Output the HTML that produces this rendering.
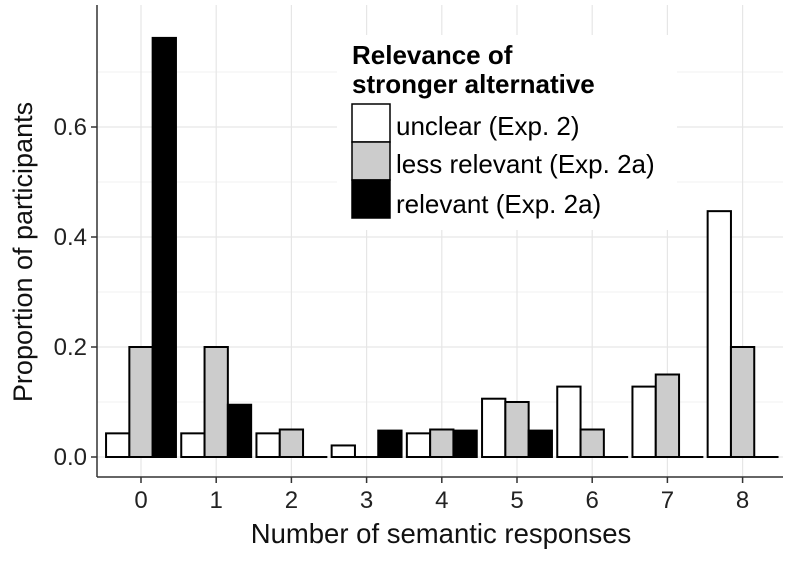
<!DOCTYPE html>
<html><head><meta charset="utf-8"><style>
body{margin:0;background:#fff;}
svg text{font-family:"Liberation Sans",sans-serif;}
</style></head><body>
<svg id="chart" width="800" height="556" xmlns="http://www.w3.org/2000/svg">
<g id="grid"></g>
<g id="bars"></g>
<g id="axes"></g>
<text x="441" y="543" font-size="27.5" text-anchor="middle" fill="#111">Number of semantic responses</text>
<text transform="translate(32,252) rotate(-90)" font-size="27" text-anchor="middle" fill="#111">Proportion of participants</text>
<g>
<rect x="337" y="35" width="340" height="195" fill="#fff"/>
<text x="352" y="64" font-size="26" font-weight="bold" fill="#000">Relevance of</text>
<text x="352" y="93" font-size="26" font-weight="bold" fill="#000">stronger alternative</text>
<g><rect x="352" y="104" width="38" height="38" fill="#fff" stroke="#000" stroke-width="1.5"/><text x="396" y="135" font-size="26">unclear (Exp. 2)</text></g>
<g><rect x="352" y="142" width="38" height="38" fill="#ccc" stroke="#000" stroke-width="1.5"/><text x="396" y="173" font-size="26">less relevant (Exp. 2a)</text></g>
<g><rect x="352" y="180" width="38" height="38" fill="#000" stroke="#000" stroke-width="1.5"/><text x="396" y="213" font-size="26">relevant (Exp. 2a)</text></g>
</g>
</svg>
<script>
const categories=["0","1","2","3","4","5","6","7","8"];
const unclear=[0.043,0.043,0.043,0.021,0.043,0.106,0.128,0.128,0.447];
const lessRelevant=[0.2,0.2,0.05,0,0.05,0.1,0.05,0.15,0.2];
const relevant=[0.762,0.095,0,0.048,0.048,0.048,0,0,0];
const yTicks=[0,0.2,0.4,0.6];
const yTickLabels=["0.0","0.2","0.4","0.6"];
const yMinor=[0.1,0.3,0.5,0.7];
const NS="http://www.w3.org/2000/svg";
const L=97,R=783,T=5,B=477;
const x0=141,step=75.2,bw=23.3;
const xs=i=>x0+i*step;
const ys=v=>457-v*550;
function mk(tag,attrs,parent){const e=document.createElementNS(NS,tag);for(const k in attrs)e.setAttribute(k,attrs[k]);parent.appendChild(e);return e;}
const grid=document.getElementById('grid'),bars=document.getElementById('bars'),axes=document.getElementById('axes');
yMinor.forEach(v=>{const l=mk('line',{x1:L,x2:R,y1:ys(v),y2:ys(v),stroke:'#f2f2f2','stroke-width':1},grid);});
yTicks.forEach(v=>{const l=mk('line',{x1:L,x2:R,y1:ys(v),y2:ys(v),stroke:'#e6e6e6','stroke-width':1.2},grid);});
categories.forEach((c,i)=>{const l=mk('line',{x1:xs(i),x2:xs(i),y1:T,y2:B,stroke:'#e6e6e6','stroke-width':1.2},grid);});
const series=[[unclear,'#fff','unclear'],[lessRelevant,'#ccc','less-relevant'],[relevant,'#000','relevant']];
categories.forEach((c,i)=>{series.forEach((s,j)=>{const v=s[0][i];const x=xs(i)-1.5*bw+j*bw;
const r=mk('rect',{x:x,y:ys(v),width:bw,height:Math.max(ys(0)-ys(v),0.01),fill:s[1],stroke:'#000','stroke-width':2},bars);

});});
mk('line',{x1:L,x2:L,y1:T,y2:B,stroke:'#333','stroke-width':1.5},axes);
mk('line',{x1:L,x2:R,y1:B,y2:B,stroke:'#333','stroke-width':1.5},axes);
yTicks.forEach((v,i)=>{mk('line',{x1:L-6,x2:L,y1:ys(v),y2:ys(v),stroke:'#333','stroke-width':1.5},axes);
const t=mk('text',{x:L-10,y:ys(v)+8,'font-size':24,'text-anchor':'end',fill:'#222'},axes);t.textContent=yTickLabels[i];
});
categories.forEach((c,i)=>{mk('line',{x1:xs(i),x2:xs(i),y1:B,y2:B+6,stroke:'#333','stroke-width':1.5},axes);
const t=mk('text',{x:xs(i),y:B+31,'font-size':24,'text-anchor':'middle',fill:'#222'},axes);t.textContent=c;
});
</script>
</body></html>
